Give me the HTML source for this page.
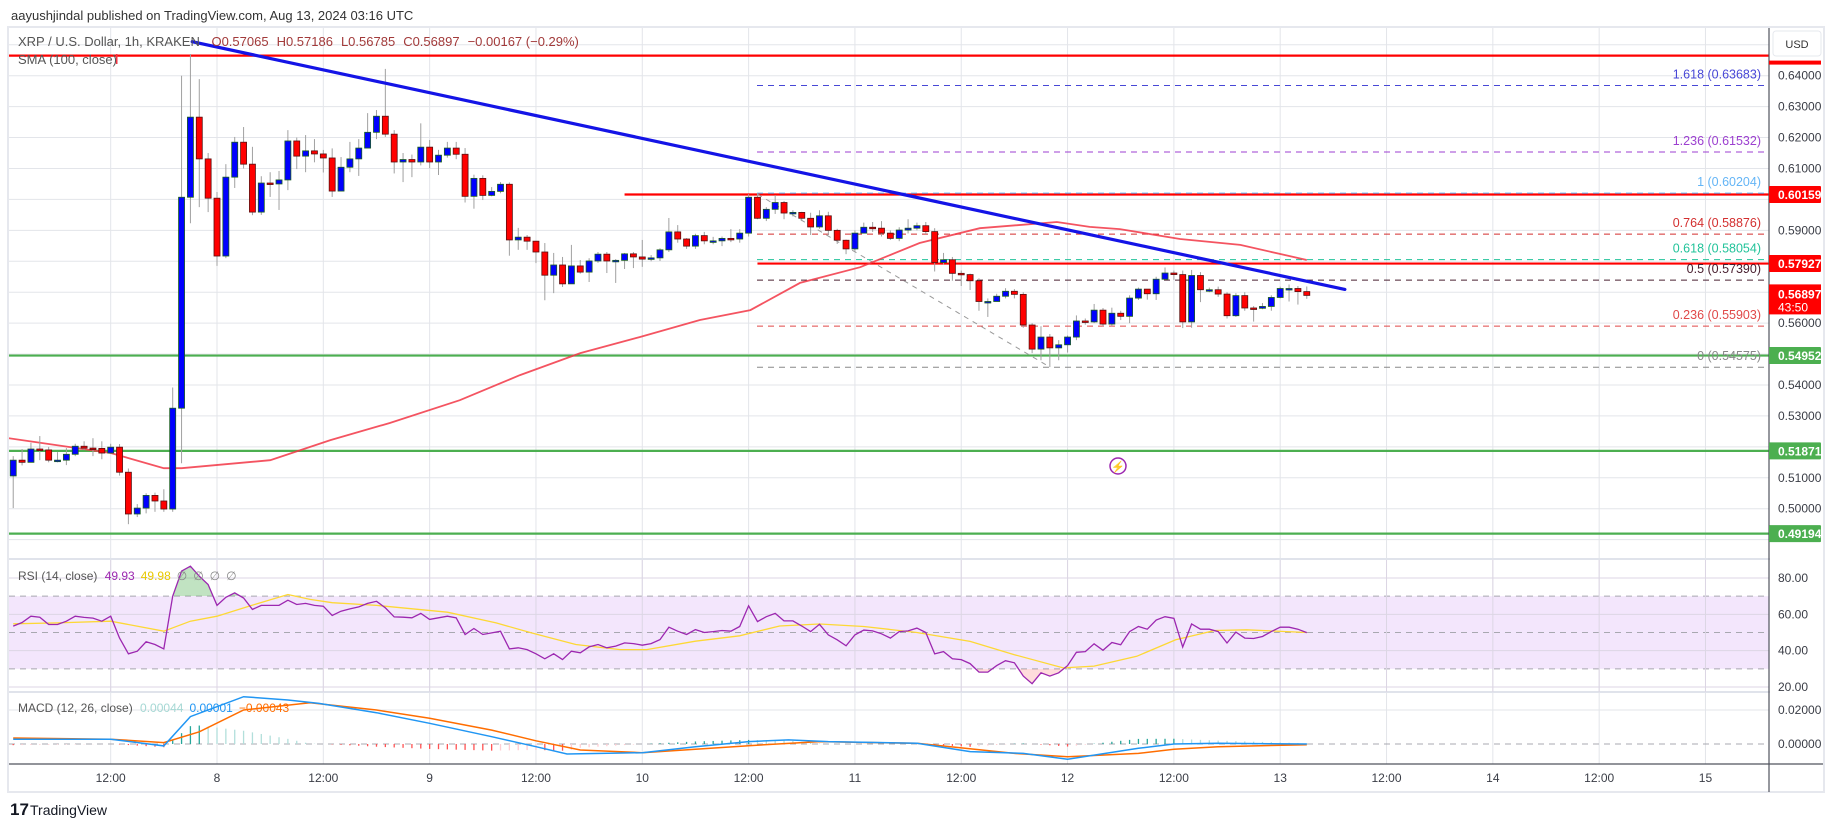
<!DOCTYPE html>
<html><head><meta charset="utf-8"><title>XRP / U.S. Dollar chart</title>
<style>
html,body{margin:0;padding:0;background:#fff;}
body{width:1835px;height:827px;overflow:hidden;font-family:"Liberation Sans",sans-serif;}
svg text{font-family:"Liberation Sans",sans-serif;}
</style></head>
<body>
<svg id="chart" width="1835" height="827" viewBox="0 0 1835 827" xmlns="http://www.w3.org/2000/svg">
<defs>
<clipPath id="cpPrice"><rect x="9" y="28" width="1760" height="531"/></clipPath>
<clipPath id="cpRsi"><rect x="9" y="560" width="1760" height="132"/></clipPath>
<clipPath id="cpMacd"><rect x="9" y="693" width="1760" height="71"/></clipPath>
<clipPath id="cpAbove70"><rect x="9" y="560" width="1760" height="36"/></clipPath>
<clipPath id="cpBelow30"><rect x="9" y="669" width="1760" height="23"/></clipPath>
</defs>
<text x="11" y="20" font-size="13" fill="#333">aayushjindal published on TradingView.com, Aug 13, 2024 03:16 UTC</text>
<rect x="8" y="27" width="1816" height="765" fill="#fff" stroke="#e6e8ee" stroke-width="2"/>
<g id="grid"></g>
<g id="pricePane" clip-path="url(#cpPrice)"></g>
<g id="rsiPane"></g>
<g id="macdPane"></g>
<g id="axes"></g>
<g id="legend">
 <text x="18" y="46" font-size="13" fill="#555">XRP / U.S. Dollar, 1h, KRAKEN <tspan fill="#a23a3a" dx="8">O0.57065</tspan><tspan fill="#a23a3a" dx="8">H0.57186</tspan><tspan fill="#a23a3a" dx="8">L0.56785</tspan><tspan fill="#a23a3a" dx="8">C0.56897</tspan><tspan fill="#a23a3a" dx="8">−0.00167 (−0.29%)</tspan></text>
 <text x="18" y="64" font-size="13" fill="#555">SMA (100, close)</text>
 <rect x="116" y="54" width="1.5" height="10" fill="#f23645"/>
 <text x="18" y="580" font-size="12" fill="#555">RSI (14, close) <tspan fill="#9c27b0" dx="4">49.93</tspan><tspan fill="#e8c800" dx="6">49.98</tspan><tspan fill="#888" dx="6">∅</tspan><tspan fill="#888" dx="6">∅</tspan><tspan fill="#888" dx="6">∅</tspan><tspan fill="#888" dx="6">∅</tspan></text>
 <text x="18" y="712" font-size="12" fill="#555">MACD (12, 26, close) <tspan fill="#a5d8d4" dx="4">0.00044</tspan><tspan fill="#2196f3" dx="6">0.00001</tspan><tspan fill="#ff6d00" dx="6">−0.00043</tspan></text>
</g>
<g>
 <circle cx="1118" cy="466" r="8" fill="#fff" stroke="#9c27b0" stroke-width="1.5"/>
 <text x="1118" y="470.5" font-size="11" text-anchor="middle" fill="#9c27b0">⚡</text>
</g>
<g>
 <text x="10" y="815" font-size="17" font-weight="bold" fill="#131722">17</text>
 <text x="30" y="815" font-size="14" fill="#131722">TradingView</text>
</g>
</svg>
<script>
// ---------- data ----------
const firstHour = -23; // hour index relative to Aug 8 00:00 (UTC)
const firstOpen = 0.5106;
const closes = [.5157,.5150,.5193,.5190,.5157,.5157,.5176,.5202,.5196,.5195,.5180,.5199,.5118,.4983,.5002,.5043,.5025,.4999,.5325,.6007,.6266,.6131,.6004,
.5817,.6072,.6185,.6114,.5959,.6053,.6050,.6063,.6189,.6140,.6157,.6147,.6134,.6027,.6104,.6131,.6166,.6217,.6269,.6211,.6121,.6129,.6121,
.6169,.6121,.6143,.6166,.6146,.6010,.6068,.6013,.6026,.6049,.5869,.5878,.5865,.5830,.5755,.5788,.5727,.5785,.5765,.5801,.5823,.5801,.5803,.5824,.5814,.5807,.5811,.5837,.5895,.5872,.5849,.5883,.5866,.5866,.5874,.5872,.5891,.6007,.5939,.5968,.5990,.5956,.5958,.5939,.5911,.5947,.5900,.5868,.5840,.5891,.5910,.5907,
.5891,.5874,.5901,.5907,.5915,.5896,.5796,.5805,.5761,.5757,.5737,.5670,.5670,.5687,.5703,.5693,.5594,.5516,.5555,.5520,.5530,.5555,.5607,.5604,.5642,.5597,.5632,.5622,.5681,.5710,.5695,.5742,.5762,.5757,.5604,.5754,.5708,.5708,.5694,.5624,.5689,.5649,.5648,.5654,.5683,.5712,.5712,.5702,.56897];
const highs = [.5170,.5193,.5213,.5235,.5200,.5183,.5196,.5210,.5218,.5228,.5218,.5210,.5209,.5130,.5015,.5050,.5052,.5063,.5392,.6400,.6470,.6389,.6150,
.6024,.6114,.6202,.6234,.6170,.6075,.6088,.6092,.6224,.6200,.6208,.6195,.6160,.6165,.6137,.6186,.6195,.6279,.6289,.6422,.6224,.6150,.6145,
.6246,.6192,.6160,.6186,.6186,.6166,.6080,.6078,.6040,.6056,.6055,.5908,.5885,.5866,.5859,.5827,.5814,.5853,.5804,.5810,.5830,.5830,.5807,.5827,.5830,.5869,.5820,.5842,.5940,.5917,.5875,.5889,.5895,.5879,.5880,.5904,.5904,.6017,.6020,.5975,.6014,.5995,.5965,.5960,.5957,.5965,.5960,.5905,.5870,.5900,.5925,.5927,
.5930,.5900,.5910,.5936,.5925,.5927,.5907,.5827,.5814,.5770,.5760,.5745,.5680,.5695,.5713,.5710,.5700,.5600,.5590,.5565,.5545,.5560,.5625,.5615,.5662,.5649,.5650,.5640,.5690,.5715,.5710,.5750,.5780,.5770,.5770,.5772,.5765,.5715,.5718,.5700,.5697,.5700,.5655,.5665,.5690,.5718,.5725,.5720,.57186];
const lows = [.5002,.5140,.5150,.5157,.5150,.5150,.5141,.5170,.5190,.5170,.5160,.5180,.5107,.4950,.4973,.4985,.4990,.4990,.4990,.5147,.5923,.5975,.5959,
.5785,.5810,.6037,.6100,.5949,.5950,.6008,.5966,.6030,.6098,.6088,.6120,.6087,.6008,.6027,.6088,.6076,.6166,.6195,.6202,.6084,.6056,.6072,
.6110,.6101,.6079,.6135,.6130,.5990,.5970,.5998,.6010,.6020,.5818,.5837,.5837,.5794,.5674,.5697,.5717,.5727,.5760,.5733,.5795,.5762,.5730,.5775,.5778,.5782,.5800,.5801,.5830,.5860,.5840,.5840,.5855,.5855,.5849,.5862,.5860,.5880,.5936,.5930,.5953,.5936,.5945,.5930,.5885,.5905,.5885,.5856,.5823,.5830,.5890,.5895,
.5880,.5869,.5865,.5890,.5900,.5888,.5767,.5790,.5737,.5720,.5707,.5640,.5620,.5670,.5680,.5680,.5585,.5503,.5480,.5458,.5480,.5505,.5545,.5595,.5600,.5590,.5590,.5610,.5600,.5675,.5676,.5675,.5740,.5740,.5584,.5585,.5668,.5700,.5685,.5615,.5620,.5640,.5605,.5645,.5640,.5680,.5670,.5660,.56785];

const smaHours = [-23.5,-12,-6,-4,6,12.8,19.5,27.4,34.2,41,47.7,54.5,60.2,65.8,72.6,79.3,86.1,94.8,98.5,101.9,108.7,115.5,123];
const smaValues = [.5228,.5180,.5131,.5131,.5157,.5222,.5277,.5351,.5432,.5503,.5555,.5610,.5642,.5730,.5781,.5859,.5907,.5927,.5911,.5904,.5872,.5853,.5804];

const rsiValues = [53.5,55.5,59,58.4,54.4,54.4,56.2,59,58.3,57.9,56.2,59,47,38.3,39.7,44.9,43.4,41,70,83.8,86.5,81,76.4,
64.9,69.4,71.8,69,62.7,64.9,64.9,65,67.8,65.4,66,64.9,64.5,59.4,61.7,63,64.1,66,67.2,63.6,58.6,58.4,58.1,
60.5,57.2,58.1,59,58.1,48.9,52.2,48.9,49.8,50.7,41,41.6,40.6,38.3,35.5,38.3,35.1,39.7,38.8,42.1,43.4,41.6,42.5,44.3,43.9,43,43.9,46.1,52.9,50.7,48.9,51.6,
50,50.5,51.1,50.7,53.3,64.7,56,58.7,60.5,56.4,56.4,53.6,50.5,54.5,48.7,46,42.7,48.7,51.3,50.9,
49.3,46.9,50.5,50.9,52.4,50,38.2,39.5,35.5,35.1,32.9,28.2,28.2,31.8,34.5,33.3,26,21.8,27.8,26,27.8,31.8,39.1,39.5,43.8,40.2,44.5,43.3,50.5,53.3,51.8,56.9,58.7,57.8,42,54.7,51.8,51.8,50.5,44.2,50.2,46.9,46.7,47.8,50.5,52.9,52.9,51.8,49.93];
const rsiMaHours = [-23,-18,-12,-6,-3,0,3.6,8,10.5,13,18,26,31.5,35.5,40.5,45.5,48.5,54,59,63.5,68,73,79,85,90,95.5,99,103.8,108.2,112.6,116.2,123];
const rsiMaValues = [54.8,55.3,56.2,50.7,56.2,59,64.5,70.9,68.2,66.4,64.9,61.2,55.3,49.8,43.4,40.6,40.6,45.2,48.2,53.6,54.7,53.3,50,45.1,37.8,30.5,31.5,36.9,46,51.1,51.5,49.98];

const macdHours = [-23,-12,-6,-3,3,8,11.5,18,24,31,36,39.5,48,54,60,64.5,69,79,85,91,96,104,108,113,123];
const macdValues = [.0028,.0028,-.0011,.0161,.0278,.0259,.0239,.0184,.0122,.0043,-.0016,-.0059,-.0051,-.0016,.0014,.0024,.0014,.0004,-.0045,-.0055,-.0090,-.0025,.0000,.0004,.00001];
const signalHours = [-23,-12,-6,-2,3,10.5,18,24,31,36,41,48,54,60,68,79,90,96,104,108,113,123];
const signalValues = [.0035,.0028,.0008,.0072,.0200,.0243,.0200,.0151,.0082,.0019,-.0035,-.0051,-.0031,-.0010,.0014,.0004,-.0055,-.0075,-.0055,-.0031,-.0016,-.00043];

const priceTicks = [0.64,0.63,0.62,0.61,0.59,0.56,0.54,0.53,0.51,0.50];
const priceGrid = [0.65,0.64,0.63,0.62,0.61,0.60,0.59,0.58,0.57,0.56,0.55,0.54,0.53,0.52,0.51,0.50,0.49];
const timeTickHours = [-12,0,12,24,36,48,60,72,84,96,108,120,132,144,156,168];
const timeTickLabels = ['12:00','8','12:00','9','12:00','10','12:00','11','12:00','12','12:00','13','12:00','14','12:00','15'];

const fibLevels = ['1.618','1.236','1','0.764','0.618','0.5','0.236','0'];
const fibPrices = [0.63683,0.61532,0.60204,0.58876,0.58054,0.57390,0.55903,0.54575];
const fibColors = ['#4747d6','#9c3fd0','#64b5f6','#d32f2f','#22c39a','#4a2030','#e04848','#888888'];

const hLinePrices = [0.6465,0.60159,0.57927,0.54952,0.51871,0.49194];
const hLineColors = ['#ff0000','#ff0000','#ff0000','#4caf50','#4caf50','#4caf50'];
const hLineStartHours = [-25,46,61,-25,-25,-25];
const hLineTags = ['','0.60159','0.57927','0.54952','0.51871','0.49194'];

const trendStart = [-2.8,0.6510]; // hour, price
const trendEnd = [127.3,0.5709];
const fibAnchorStart = [61,0.6017];
const fibAnchorEnd = [94,0.5458];

// ---------- scales ----------
const X0 = 217, HOUR = 8.86;
function xH(h){return X0 + h*HOUR;}
function yP(p){return 75.7 + (0.64-p)*3093;}
function yR(v){return 578 + (80-v)*1.8167;}
function yM(v){return 744 - v*1700;}
const NS = 'http://www.w3.org/2000/svg';
function mk(tag, attrs, parent){const e=document.createElementNS(NS,tag);for(const k in attrs)e.setAttribute(k,attrs[k]);parent.appendChild(e);return e;}
function interp(hs, vs, h){if(h<=hs[0])return vs[0];for(let i=1;i<hs.length;i++){if(h<=hs[i]){const t=(h-hs[i-1])/(hs[i]-hs[i-1]);return vs[i-1]+t*(vs[i]-vs[i-1]);}}return vs[vs.length-1];}

const grid=document.getElementById('grid');
const price=document.getElementById('pricePane');
const rsi=document.getElementById('rsiPane');
const macd=document.getElementById('macdPane');
const axes=document.getElementById('axes');

// ---------- grid ----------
priceGrid.forEach(p=>{
  const l=mk('line',{x1:9,x2:1769,y1:yP(p),y2:yP(p),stroke:'#e3e5ea','stroke-width':1},grid);
  
  
});
timeTickHours.forEach(h=>{
  const l=mk('line',{x1:xH(h),x2:xH(h),y1:28,y2:764,stroke:'#e3e5ea','stroke-width':1},grid);
  
  
});
// pane separators
[559,692].forEach(y=>{
  const l=mk('line',{x1:9,x2:1823,y1:y,y2:y,stroke:'#e0e3eb','stroke-width':2},grid);
  
  
});

// ---------- horizontal levels ----------
hLinePrices.forEach((p,i)=>{
  const l=mk('line',{x1:xH(hLineStartHours[i]),x2:1769,y1:yP(p),y2:yP(p),stroke:hLineColors[i],'stroke-width':2.2},price);
  
  
});

// ---------- fib retracement ----------
fibPrices.forEach((p,i)=>{
  const l=mk('line',{x1:757,x2:1765,y1:yP(p),y2:yP(p),stroke:fibColors[i],'stroke-width':1,'stroke-dasharray':'6 5'},price);
  
  
  const t=mk('text',{x:1761,y:yP(p)-7,'font-size':12.5,'text-anchor':'end',fill:fibColors[i]},price);
  t.textContent=fibLevels[i]+' ('+p.toFixed(5)+')';
  
  
});
const fibDiag=mk('line',{x1:xH(fibAnchorStart[0]),y1:yP(fibAnchorStart[1]),x2:xH(fibAnchorEnd[0]),y2:yP(fibAnchorEnd[1]),stroke:'#999','stroke-width':1,'stroke-dasharray':'5 5'},price);



// ---------- SMA ----------
let d='';
smaHours.forEach((h,i)=>{d+=(i?'L':'M')+xH(h).toFixed(1)+' '+yP(smaValues[i]).toFixed(1);});
const sma=mk('path',{d:d,fill:'none',stroke:'#f23645','stroke-width':1.8,'stroke-opacity':0.85},price);



// ---------- candles ----------
closes.forEach((c,i)=>{
  const h=firstHour+i;
  const o = i===0 ? firstOpen : closes[i-1];
  const x=xH(h);
  const up=c>=o;
  const g=mk('g',{},price);
  
  
  mk('line',{x1:x,x2:x,y1:yP(highs[i]),y2:yP(lows[i]),stroke:'#a0a0a0','stroke-width':1},g);
  const top=yP(Math.max(o,c)), bot=yP(Math.min(o,c));
  mk('rect',{x:x-3,y:top,width:6,height:Math.max(bot-top,1.5),fill:up?'#0000ff':'#ff0000',stroke:up?'#1b5e20':'#5a1010','stroke-width':0.8},g);
});

// ---------- trendline ----------
const tl=mk('line',{x1:xH(trendStart[0]),y1:yP(trendStart[1]),x2:xH(trendEnd[0]),y2:yP(trendEnd[1]),stroke:'#1414e6','stroke-width':3.2,'stroke-linecap':'round'},price);



// ---------- RSI ----------
const band=mk('rect',{x:9,y:yR(70),width:1760,height:yR(30)-yR(70),fill:'#f3e6fc'},rsi);


[80,60,40,20].forEach(v=>{
  const l=mk('line',{x1:9,x2:1769,y1:yR(v),y2:yR(v),stroke:'#dcd6e4','stroke-width':1},rsi);
  
  
});
[70,50,30].forEach(v=>{
  const l=mk('line',{x1:9,x2:1769,y1:yR(v),y2:yR(v),stroke:'#a8a8b0','stroke-width':1,'stroke-dasharray':'6 5'},rsi);
  
  
});
timeTickHours.forEach(h=>{mk('line',{x1:xH(h),x2:xH(h),y1:560,y2:692,stroke:'#dcd6e4','stroke-width':1},rsi);});
let rd='';
rsiValues.forEach((v,i)=>{rd+=(i?'L':'M')+xH(firstHour+i).toFixed(1)+' '+yR(v).toFixed(1);});
const fillPath = rd + 'L'+xH(firstHour+rsiValues.length-1).toFixed(1)+' '+yR(70)+'L'+xH(firstHour)+' '+yR(70)+'Z';
const ob=mk('path',{d:fillPath,fill:'#4caf50','fill-opacity':0.35,'clip-path':'url(#cpAbove70)'},rsi);


const fillPath2 = rd + 'L'+xH(firstHour+rsiValues.length-1).toFixed(1)+' '+yR(30)+'L'+xH(firstHour)+' '+yR(30)+'Z';
const os=mk('path',{d:fillPath2,fill:'#ff5252','fill-opacity':0.2,'clip-path':'url(#cpBelow30)'},rsi);


let md='';
rsiMaHours.forEach((h,i)=>{md+=(i?'L':'M')+xH(h).toFixed(1)+' '+yR(rsiMaValues[i]).toFixed(1);});
const rma=mk('path',{d:md,fill:'none',stroke:'#fdd835','stroke-width':1.3},rsi);


const rl=mk('path',{d:rd,fill:'none',stroke:'#9c27b0','stroke-width':1.3},rsi);



// ---------- MACD ----------
const mg=mk('line',{x1:9,x2:1769,y1:yM(0.02),y2:yM(0.02),stroke:'#e3e5ea','stroke-width':1},macd);


const mz=mk('line',{x1:9,x2:1769,y1:yM(0),y2:yM(0),stroke:'#a8a8b0','stroke-width':1,'stroke-dasharray':'6 5'},macd);


let prevHist=0;
for(let i=0;i<closes.length;i++){
  const h=firstHour+i;
  const hv=interp(macdHours,macdValues,h)-interp(signalHours,signalValues,h);
  let col;
  if(hv>=0) col = hv>=prevHist ? '#26a69a' : '#b2dfdb';
  else col = hv<=prevHist ? '#ff5252' : '#ffcdd2';
  prevHist=hv;
  const b=mk('line',{x1:xH(h),x2:xH(h),y1:yM(0),y2:yM(hv),stroke:col,'stroke-width':1.3},macd);
  
  
}
let sd='';
signalHours.forEach((h,i)=>{sd+=(i?'L':'M')+xH(h).toFixed(1)+' '+yM(signalValues[i]).toFixed(1);});
const sl=mk('path',{d:sd,fill:'none',stroke:'#ff6d00','stroke-width':1.5},macd);


let ml='';
macdHours.forEach((h,i)=>{ml+=(i?'L':'M')+xH(h).toFixed(1)+' '+yM(macdValues[i]).toFixed(1);});
const mline=mk('path',{d:ml,fill:'none',stroke:'#2196f3','stroke-width':1.5},macd);



// ---------- axes ----------
mk('rect',{x:1770,y:28,width:53,height:736,fill:'#fff'},axes);
const va=mk('line',{x1:1769,x2:1769,y1:28,y2:792,stroke:'#50535e','stroke-width':1.2},axes);


const ha=mk('line',{x1:9,x2:1823,y1:764,y2:764,stroke:'#50535e','stroke-width':1.2},axes);


priceTicks.forEach(p=>{
  const t=mk('text',{x:1778,y:yP(p)+4,'font-size':12,fill:'#3a3d46'},axes);
  t.textContent=p.toFixed(5);
  
  
});
[80,60,40,20].forEach(v=>{
  const t=mk('text',{x:1778,y:yR(v)+4,'font-size':12,fill:'#3a3d46'},axes);
  t.textContent=v.toFixed(2);
  
  
});
[0.02,0].forEach(v=>{
  const t=mk('text',{x:1778,y:yM(v)+4,'font-size':12,fill:'#3a3d46'},axes);
  t.textContent=v.toFixed(5);
  
  
});
timeTickHours.forEach((h,i)=>{
  const t=mk('text',{x:xH(h),y:782,'font-size':12,'text-anchor':'middle',fill:'#3a3d46'},axes);
  t.textContent=timeTickLabels[i];
  
  
});
// price tags
hLinePrices.forEach((p,i)=>{
  if(!hLineTags[i]){
    const r=mk('rect',{x:1769,y:yP(p)+5,width:52,height:4,fill:hLineColors[i]},axes);
    
    
    return;
  }
  const g=mk('g',{},axes);
  
  
  mk('rect',{x:1769,y:yP(p)-8.5,width:52,height:17,fill:hLineColors[i],rx:1},g);
  const t=mk('text',{x:1778,y:yP(p)+4.5,'font-size':12,'font-weight':'bold',fill:'#fff'},g);
  t.textContent=hLineTags[i];
});
const lastClose=closes[closes.length-1];
const cg=mk('g',{},axes);


mk('rect',{x:1769,y:yP(lastClose)-11,width:52,height:30,fill:'#ff0000'},cg);
const ct=mk('text',{x:1778,y:yP(lastClose)+3,'font-size':12,'font-weight':'bold',fill:'#fff'},cg);
ct.textContent=lastClose.toFixed(5);
const ct2=mk('text',{x:1778,y:yP(lastClose)+16,'font-size':12,fill:'#fff'},cg);
ct2.textContent='43:50';
// USD box
const ub=mk('g',{},axes);


mk('rect',{x:1773,y:31,width:48,height:25,rx:3,fill:'#fff',stroke:'#e6e8ee'},ub);
const ut=mk('text',{x:1797,y:48,'font-size':11,'text-anchor':'middle',fill:'#333'},ub);
ut.textContent='USD';
</script>
</body></html>
